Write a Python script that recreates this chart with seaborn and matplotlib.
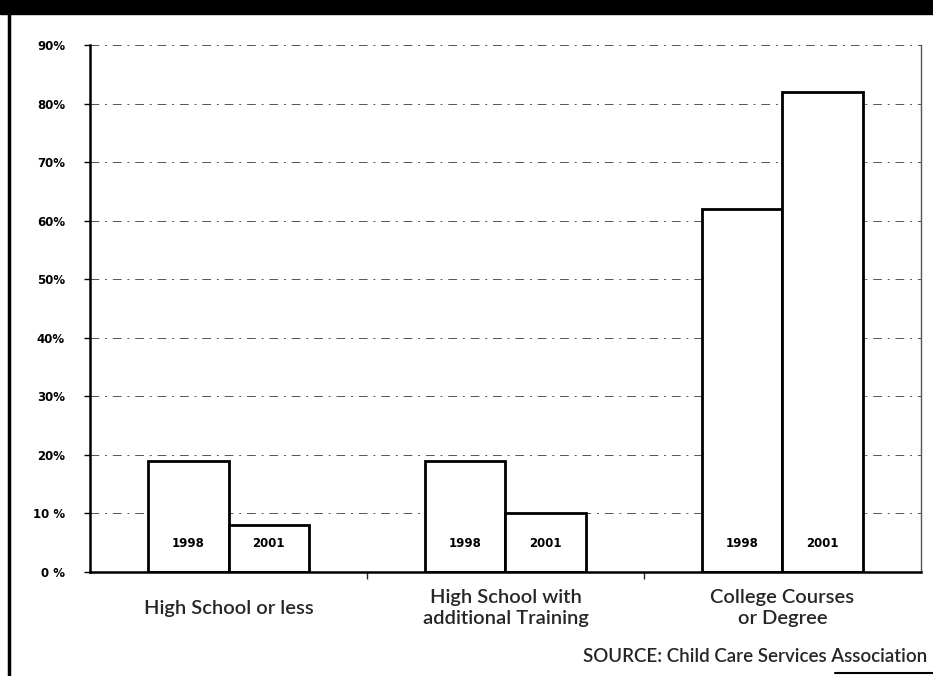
import matplotlib
matplotlib.use("Agg")
import matplotlib.pyplot as plt
from matplotlib.patches import Rectangle
from matplotlib.lines import Line2D
from matplotlib.ticker import FixedLocator, FuncFormatter
import pandas as pd
import seaborn as sns

# --- data ---
levels = ["High School or less", "High School with\nadditional Training", "College Courses\nor Degree"]
years = ["1998", "2001"]
pct_1998 = [19, 19, 62]
pct_2001 = [8, 10, 82]
y_ticks = [0, 10, 20, 30, 40, 50, 60, 70, 80, 90]
source_text = "SOURCE: Child Care Services Association"

df = pd.DataFrame({
    "level": levels * 2,
    "year": [years[0]] * 3 + [years[1]] * 3,
    "pct": pct_1998 + pct_2001,
})

sns.set_theme(style="white")
plt.rcParams["font.family"] = ["DejaVu Sans"]

fig = plt.figure(figsize=(9.33, 6.76), dpi=100)
ax = fig.add_axes([0.0965, 0.1538, 0.8905, 0.7796])

sns.barplot(data=df, x="level", y="pct", hue="year", order=levels, hue_order=years,
            palette=["white", "white"], edgecolor="black", linewidth=2.0,
            width=0.58, gap=0, legend=False, ax=ax, errorbar=None)

ax.set_ylim(0, 90)
ax.set_xlim(-0.5, 2.5)
ax.set_xlabel("")
ax.set_ylabel("")

# grid: ragged dash-dot lines like the scanned original
ax.set_yticks(y_ticks)
ax.yaxis.set_major_formatter(FuncFormatter(lambda v, p: f"{int(v)} %" if v < 20 else f"{int(v)}%"))
ax.yaxis.grid(True, linestyle=(0, (9, 6, 2, 6)), color="#555555", linewidth=0.7)
ax.set_axisbelow(True)

for lab in ax.get_yticklabels():
    lab.set_fontweight("bold")
    lab.set_fontsize(8.5)
ax.tick_params(axis="y", length=4, width=1, pad=14, left=True, direction="out", colors="black")

# category labels centred, tick marks between groups
ax.tick_params(axis="x", length=0, pad=26)
for lab in ax.get_xticklabels():
    lab.set_va("center")
    lab.set_fontsize(14.5)
    lab.set_family(["Lato", "DejaVu Sans"])
    lab.set_fontweight("semibold")
    lab.set_linespacing(1.25)
ax.xaxis.set_minor_locator(FixedLocator([0.5, 1.5]))
ax.tick_params(axis="x", which="minor", length=5, width=1, bottom=True, direction="out")

for side in ["left", "bottom"]:
    ax.spines[side].set_color("black")
    ax.spines[side].set_linewidth(1.8)
ax.spines["right"].set_color("#555555")
ax.spines["right"].set_linewidth(1.0)
ax.spines["top"].set_visible(False)

# year labels inside each bar
for bars, yr in zip(ax.containers, years):
    for bar in bars:
        ax.text(bar.get_x() + bar.get_width() / 2, 4.8, yr, ha="center", va="center",
                fontsize=8.5, fontweight="bold", color="black")

# scan framing: black band on top, left border, source line
fig.patches.append(Rectangle((0, 1 - 14 / 676), 1, 14 / 676, transform=fig.transFigure,
                             color="black", zorder=0))
fig.lines.append(Line2D([9 / 933, 9 / 933], [0, 1 - 14 / 676], transform=fig.transFigure,
                        color="black", linewidth=2.5))
fig.lines.append(Line2D([835 / 933, 1], [3 / 676, 3 / 676], transform=fig.transFigure,
                        color="black", linewidth=1.5))
fig.text(0.994, 1 - 656 / 676, source_text, ha="right", va="center", fontsize=13.5,
         family=["Lato", "DejaVu Sans"], fontweight="semibold")

fig.savefig("out.png", dpi=100)
